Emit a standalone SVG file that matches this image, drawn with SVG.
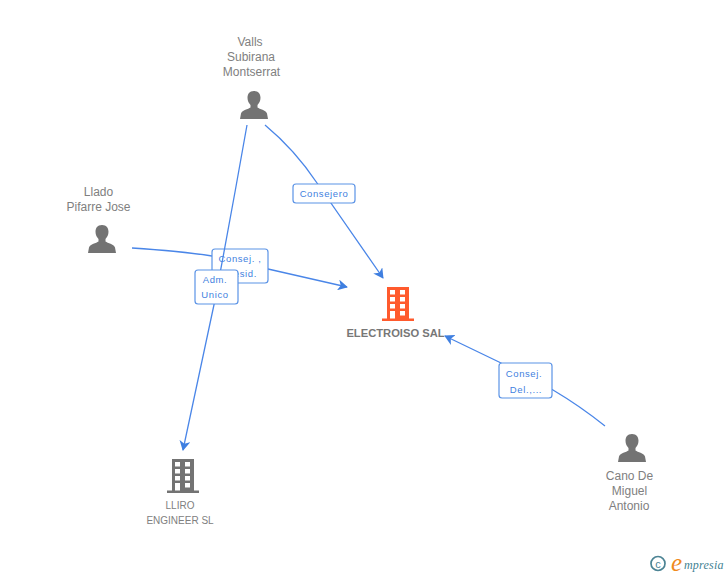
<svg xmlns="http://www.w3.org/2000/svg" width="728" height="575" viewBox="0 0 728 575">
<style>
text{font-family:"Liberation Sans",Arial,sans-serif}
.n{font-size:12px;fill:#808080;text-anchor:middle}
.b{font-weight:bold;font-size:11.200px;fill:#777}
.s{font-size:10px}
.l{font-size:9.500px;fill:#3f7fe0;text-anchor:middle;letter-spacing:.6px}
.c{fill:none;stroke:#4a86e8;stroke-width:1.300}
.box{fill:#fff;stroke:#5b93e6;stroke-width:1.200}
.p{fill:#737373}
</style>
<defs>
<marker id="a" viewBox="0 0 12 12" refX="10" refY="6" markerWidth="11" markerHeight="11" markerUnits="userSpaceOnUse" orient="auto"><path d="M0 0L11 6L0 12L3 6Z" fill="#3f7fe0"/></marker>
<symbol id="person" viewBox="0 0 28 28" overflow="visible"><path d="M14 0C9.300 0 7.500 3.300 7.500 6.800C7.500 10 8.900 12.300 10.500 14V16.600C8.300 18.300 2.300 19 1 22.400L0 28H28L27 22.400C25.700 19 19.700 18.300 17.500 16.600V14C19.100 12.300 20.500 10 20.500 6.800C20.500 3.300 18.700 0 14 0Z"/></symbol>
<symbol id="bld" viewBox="0 0 32 34" overflow="visible"><path d="M5 0H27V31.500H32V34H0V31.500H5ZM8 3V7.500H13V3ZM18 3V7.500H23V3ZM8 10V14.500H13V10ZM18 10V14.500H23V10ZM8 17V21.500H13V17ZM18 17V21.500H23V17ZM8 24V31.500H13V24ZM18 24V28.500H23V24Z" fill-rule="evenodd"/></symbol>
</defs>
<g id="connectors">
<path class="c" d="M132 248Q180 251 212 256L268 269L347 287" marker-end="url(#a)"/>
<g><rect class="box" x="212" y="249" width="56" height="34" rx="3"/><text class="l" x="240" y="262">Consej. ,</text><text class="l" x="240" y="277">Presid.</text></g>
<path class="c" d="M247 125Q232 210 215 300L183 450" marker-end="url(#a)"/>
<g><rect class="box" x="195" y="270" width="43" height="34" rx="3"/><text class="l" x="215" y="283">Adm.</text><text class="l" x="215" y="298">Unico</text></g>
<path class="c" d="M265 125Q295 150 317 183L383 278" marker-end="url(#a)"/>
<g><rect class="box" x="293" y="184" width="62" height="19" rx="3"/><text class="l" x="324" y="197">Consejero</text></g>
<path class="c" d="M605 426Q580 406 553 390L499 362L445 336" marker-end="url(#a)"/>
<g><rect class="box" x="499" y="363" width="53" height="35" rx="3"/><text class="l" x="524" y="377">Consej.</text><text class="l" x="526" y="393">Del.,...</text></g>
</g>
<g id="valls"><use href="#person" class="p" x="240" y="91" width="28" height="28"/><text class="n" x="250" y="46">Valls</text><text class="n" x="251" y="61">Subirana</text><text class="n" x="251.500" y="76">Montserrat</text></g>
<g id="llado"><use href="#person" class="p" x="88" y="225" width="28" height="28"/><text class="n" x="98.500" y="196">Llado</text><text class="n" x="98.500" y="211">Pifarre Jose</text></g>
<g id="cano"><use href="#person" class="p" x="618" y="434" width="28" height="28"/><text class="n" x="629.500" y="480">Cano De</text><text class="n" x="629.500" y="495">Miguel</text><text class="n" x="629" y="510">Antonio</text></g>
<g id="electroiso"><use href="#bld" fill="#ff5a2d" x="382" y="287" width="32" height="34"/><text class="n b" x="395.500" y="337">ELECTROISO SAL</text></g>
<g id="lliro"><use href="#bld" class="p" x="167" y="459" width="32" height="34"/><text class="n s" x="180" y="509">LLIRO</text><text class="n s" x="180" y="524">ENGINEER SL</text></g>
<g id="brand"><circle cx="658" cy="563.500" r="7" fill="none" stroke="#4c8494" stroke-width="1.700"/><text x="658" y="567.500" font-size="11" fill="#4c8494" text-anchor="middle">c</text><text x="671" y="571" font-size="25" font-style="italic" fill="#f08a1d" style="font-family:'Liberation Serif',serif">e</text><text x="684" y="569" font-size="12" font-style="italic" fill="#3f8293" style="font-family:'Liberation Serif',serif" letter-spacing=".2">mpresia</text></g>
</svg>
